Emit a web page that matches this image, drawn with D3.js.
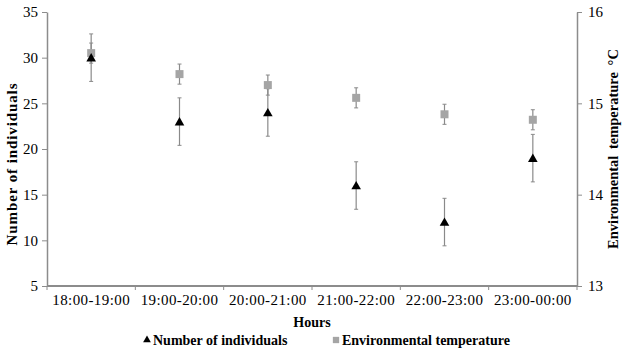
<!DOCTYPE html>
<html>
<head>
<meta charset="utf-8">
<script src="https://cdn.jsdelivr.net/npm/d3@7"></script>
<style>
	body { margin: 0; background: #fff; }
	svg text { font-family: "Liberation Serif", "Times New Roman", serif; fill: #000; }
	.axis-title, .legend-label { font-weight: bold; }
</style>
</head>
<body>
<svg id="plot"></svg>
<script>
const WIDTH = 624;
const HEIGHT = 357;

const hours = ["18:00-19:00", "19:00-20:00", "20:00-21:00", "21:00-22:00", "22:00-23:00", "23:00-00:00"];
const individuals = [30, 23, 24, 16, 12, 19];
const individualsErr = [2.6, 2.6, 2.6, 2.6, 2.6, 2.6];
const temperature = [15.55, 15.32, 15.2, 15.06, 14.88, 14.82];
const temperatureErr = [0.11, 0.11, 0.11, 0.11, 0.11, 0.11];
const leftTicks = [5, 10, 15, 20, 25, 30, 35];
const rightTicks = [13, 14, 15, 16];

const AXIS_GREY = "#8c8c8c";
const BAR_GREY = "#8a8a8a";
const SQUARE_GREY = "#a5a5a5";

const plot = d3.select("#plot").attr("width", WIDTH).attr("height", HEIGHT);

const x = d3.scaleBand(hours, [47, 577]);
const yLeft = d3.scaleLinear([5, 35], [286, 12]);
const yRight = d3.scaleLinear([13, 16], [286, 12]);
const cx = d => x(d) + x.bandwidth() / 2;

// left axis
const leftAxis = plot.append("g")
	.attr("transform", `translate(${x.range()[0]},0)`)
	.call(d3.axisLeft(yLeft).tickValues(leftTicks).tickSize(5).tickSizeOuter(0).tickPadding(4));

// right axis
const rightAxis = plot.append("g")
	.attr("transform", `translate(${x.range()[1]},0)`)
	.call(d3.axisRight(yRight).tickValues(rightTicks).tickFormat(d3.format("d"))
		.tickSize(5).tickSizeOuter(0).tickPadding(6));

[leftAxis, rightAxis].forEach(g => {
	g.select(".domain").attr("stroke", AXIS_GREY).attr("stroke-width", 1.5);
	g.selectAll(".tick line").attr("stroke", AXIS_GREY);
	g.selectAll(".tick text").attr("font-size", 15).attr("font-family", "Liberation Serif");
});

// x axis with ticks on band boundaries
const xAxisG = plot.append("g");
xAxisG.append("line")
	.attr("x1", x.range()[0]).attr("x2", x.range()[1])
	.attr("y1", yLeft(5)).attr("y2", yLeft(5))
	.attr("stroke", AXIS_GREY).attr("stroke-width", 2);
const boundaries = hours.map(h => x(h)).concat([x.range()[1]]);
xAxisG.selectAll(".xtick").data(boundaries).join("line")
	.attr("class", "xtick")
	.attr("x1", d => d).attr("x2", d => d)
	.attr("y1", yLeft(5)).attr("y2", yLeft(5) + 4)
	.attr("stroke", AXIS_GREY);
xAxisG.selectAll(".xlabel").data(hours).join("text")
	.attr("class", "xlabel")
	.attr("x", d => cx(d))
	.attr("y", yLeft(5) + 19)
	.attr("text-anchor", "middle")
	.attr("font-size", 15)
	.attr("letter-spacing", 0.4)
	.text(d => d);

// error bars: temperature first, then individuals
function errorBars(cls, values, errs, scale) {
	const g = plot.append("g").attr("class", cls);
	g.selectAll("line.bar").data(hours).join("line")
		.attr("class", "bar")
		.attr("x1", d => cx(d)).attr("x2", d => cx(d))
		.attr("y1", (d, i) => scale(values[i] + errs[i]))
		.attr("y2", (d, i) => scale(values[i] - errs[i]))
		.attr("stroke", BAR_GREY).attr("stroke-width", 1.2);
	["top", "bottom"].forEach(side => {
		g.selectAll(`line.cap-${side}`).data(hours).join("line")
			.attr("class", `cap-${side}`)
			.attr("x1", d => cx(d) - 2).attr("x2", d => cx(d) + 2)
			.attr("y1", (d, i) => scale(values[i] + (side === "top" ? errs[i] : -errs[i])))
			.attr("y2", (d, i) => scale(values[i] + (side === "top" ? errs[i] : -errs[i])))
			.attr("stroke", BAR_GREY).attr("stroke-width", 1);
	});
}
errorBars("temp-err", temperature, temperatureErr, yRight);
errorBars("ind-err", individuals, individualsErr, yLeft);

const triangle = d3.symbol(d3.symbolTriangle, 40);
const square = d3.symbol(d3.symbolSquare, 64);

plot.append("g").selectAll("path").data(hours).join("path")
	.attr("transform", (d, i) => `translate(${cx(d)},${yRight(temperature[i])})`)
	.attr("d", square)
	.attr("fill", SQUARE_GREY);

plot.append("g").selectAll("path").data(hours).join("path")
	.attr("transform", (d, i) => `translate(${cx(d)},${yLeft(individuals[i]) + 1})`)
	.attr("d", triangle)
	.attr("fill", "#000");

// axis titles
plot.append("text").attr("class", "axis-title")
	.attr("transform", `translate(17,${(yLeft(5) + yLeft(35)) / 2 + 15}) rotate(-90)`)
	.attr("text-anchor", "middle")
	.attr("font-size", 15)
	.attr("letter-spacing", 0.9)
	.text("Number of individuals");
plot.append("text").attr("class", "axis-title")
	.attr("transform", `translate(618,${(yRight(13) + yRight(16)) / 2}) rotate(-90)`)
	.attr("text-anchor", "middle")
	.attr("font-size", 14.5)
	.attr("word-spacing", 3)
	.text("Environmental temperature °C");
plot.append("text").attr("class", "axis-title")
	.attr("x", (x.range()[0] + x.range()[1]) / 2)
	.attr("y", 327)
	.attr("text-anchor", "middle")
	.attr("font-size", 14)
	.text("Hours");

// legend
const legend = plot.append("g");
legend.append("path")
	.attr("transform", "translate(147,340)")
	.attr("d", d3.symbol(d3.symbolTriangle, 26))
	.attr("fill", "#000");
legend.append("text").attr("class", "legend-label")
	.attr("x", 153).attr("y", 345).attr("font-size", 14).text("Number of individuals");
legend.append("path")
	.attr("transform", "translate(336,340)")
	.attr("d", d3.symbol(d3.symbolSquare, 40))
	.attr("fill", SQUARE_GREY);
legend.append("text").attr("class", "legend-label")
	.attr("x", 342).attr("y", 345).attr("font-size", 14).text("Environmental temperature");
</script>
</body>
</html>
